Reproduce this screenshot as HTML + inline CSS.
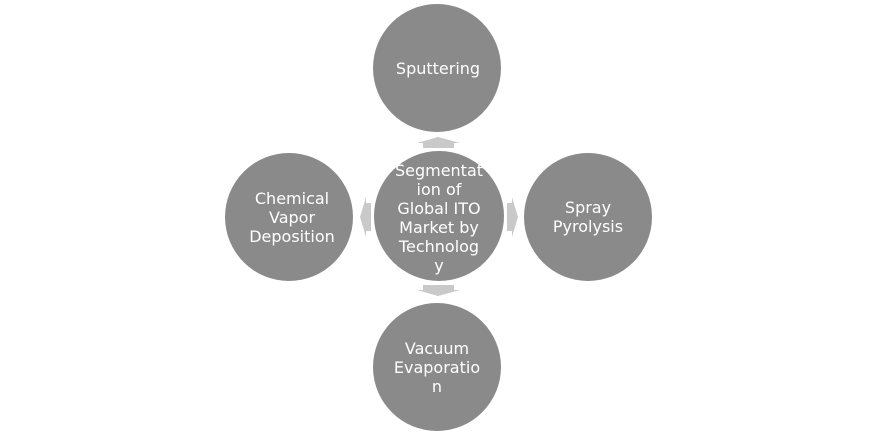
<!DOCTYPE html>
<html><head><meta charset="utf-8"><style>
html,body{margin:0;padding:0;background:#fff;}
svg{display:block}
text{font-family:"DejaVu Sans","Liberation Sans",sans-serif;fill:#fff;font-size:16px;text-anchor:middle}
</style></head><body>
<svg width="878" height="435" viewBox="0 0 878 435">
<g fill="#c9c9c9">
<polygon points="438,137 460,143 454,143 454,148 423,148 423,143 417,143"/>
<polygon points="423,285 454,285 454,290 460,290 438,296 417,290 423,290"/>
<polygon points="360,217 366,197 366,203 371,203 371,231 366,231 366,237"/>
<polygon points="518,217 512,197 512,203 507,203 507,231 512,231 512,237"/>
</g>
<g fill="#8a8a8a">
<circle cx="437" cy="68" r="64"/>
<circle cx="439" cy="216" r="65"/>
<circle cx="289" cy="217" r="64"/>
<circle cx="588" cy="217" r="64"/>
<circle cx="437" cy="367" r="64"/>
</g>
<text x="438" y="74">Sputtering</text>
<text x="292" y="204">Chemical</text>
<text x="292" y="223">Vapor</text>
<text x="292" y="242">Deposition</text>
<text x="588" y="213">Spray</text>
<text x="588" y="232">Pyrolysis</text>
<text x="437" y="354">Vacuum</text>
<text x="437" y="373">Evaporatio</text>
<text x="437" y="392">n</text>
<text x="439" y="176">Segmentat</text>
<text x="439" y="195">ion of</text>
<text x="439" y="214">Global ITO</text>
<text x="439" y="233">Market by</text>
<text x="439" y="252">Technolog</text>
<text x="439" y="271">y</text>
</svg>
</body></html>
